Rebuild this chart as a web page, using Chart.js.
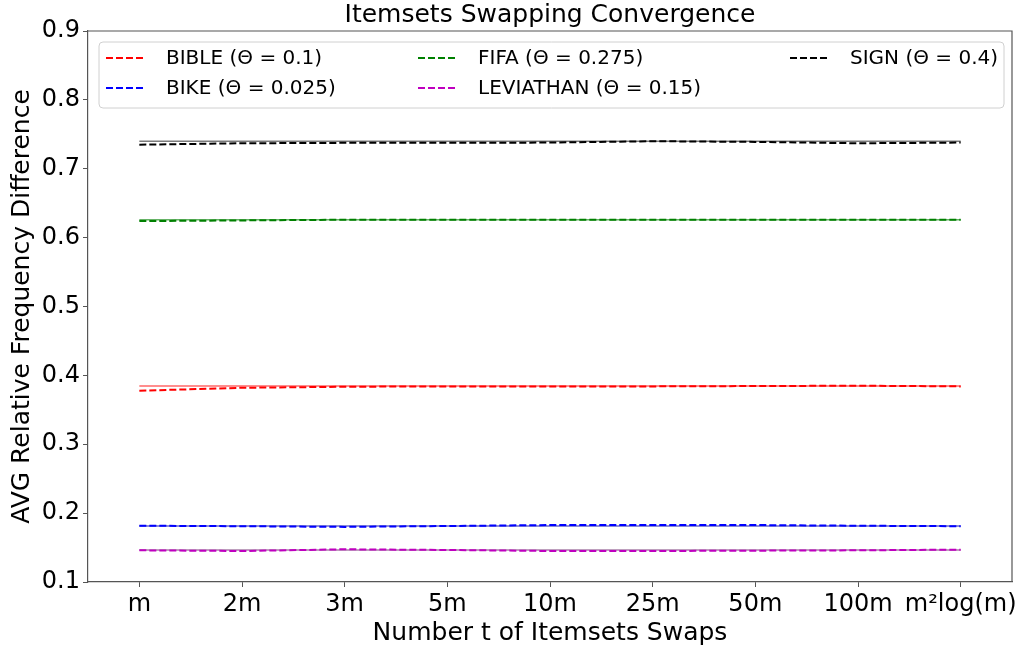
<!DOCTYPE html>
<html>
<head>
<meta charset="utf-8">
<script src="https://cdn.jsdelivr.net/npm/chart.js@4"></script>
<style>
  html, body { margin: 0; padding: 0; background: #fff; }
  #wrap { width: 1022px; height: 653px; }
</style>
</head>
<body>
<div id="wrap"><canvas id="conv-chart" width="1022" height="653"></canvas></div>
<script>
// swap counts on the x axis
var swaps = ["m", "2m", "3m", "5m", "10m", "25m", "50m", "100m", "m\u00B2log(m)"];

// AVG relative frequency difference per dataset (dashed = swapped runs)
var bible = [0.3777, 0.382, 0.3835, 0.384, 0.384, 0.384, 0.3845, 0.385, 0.384];
var bike = [0.1817, 0.181, 0.180, 0.1813, 0.1827, 0.1827, 0.1827, 0.1817, 0.181];
var fifa = [0.624, 0.625, 0.626, 0.626, 0.626, 0.626, 0.626, 0.626, 0.626];
var leviathan = [0.146, 0.145, 0.1475, 0.1465, 0.145, 0.145, 0.1455, 0.146, 0.147];
var sign = [0.735, 0.737, 0.7376, 0.7376, 0.738, 0.740, 0.739, 0.737, 0.738];

// reference level of each dataset (thin solid lines)
var bibleRef = 0.3845;
var bikeRef = 0.1813;
var fifaRef = 0.626;
var leviathanRef = 0.1465;
var signRef = 0.740;

var yTicks = [0.1, 0.2, 0.3, 0.4, 0.5, 0.6, 0.7, 0.8, 0.9];

var legendNames = ["BIBLE (\u0398 = 0.1)", "BIKE (\u0398 = 0.025)", "FIFA (\u0398 = 0.275)", "LEVIATHAN (\u0398 = 0.15)", "SIGN (\u0398 = 0.4)"];

var FONT = "'DejaVu Sans', sans-serif";

function flat(v) {
    return swaps.map(function() { return v; });
}

function dashed(label, data, color) {
    return { label: label, data: data, borderColor: color, backgroundColor: color,
             borderWidth: 2, borderDash: [7, 3], pointRadius: 0, tension: 0, fill: false };
}
function solid(data, color) {
    return { label: "", data: data, borderColor: color, borderWidth: 1.5,
             pointRadius: 0, tension: 0, fill: false };
}

// legend drawn inside the plot, column-major like the original
var boxLegend = {
    id: 'boxLegend',
    afterDatasetsDraw: function(chart) {
        var c = chart.ctx, a = chart.chartArea;
        var bx = a.left + 11, by = a.top + 11, bw = a.right - a.left - 19, bh = 66;
        c.save();
        c.beginPath();
        c.roundRect(bx, by, bw, bh, 4);
        c.fillStyle = 'rgba(255,255,255,0.85)';
        c.fill();
        c.strokeStyle = '#d0d0d0';
        c.lineWidth = 1;
        c.stroke();
        var cols = [a.left + 18, a.left + 330, a.left + 702];
        var rows = [a.top + 27, a.top + 57];
        var slots = [[0, 0], [0, 1], [1, 0], [1, 1], [2, 0]];
        c.font = "20px " + FONT;
        c.textBaseline = 'middle';
        c.textAlign = 'left';
        for (var i = 0; i < 5; i++) {
            var ds = chart.data.datasets[i];
            var x = cols[slots[i][0]], y = rows[slots[i][1]];
            c.beginPath();
            c.setLineDash([7, 3]);
            c.strokeStyle = ds.borderColor;
            c.lineWidth = 2;
            c.moveTo(x, y);
            c.lineTo(x + 40, y);
            c.stroke();
            c.setLineDash([]);
            c.fillStyle = '#000';
            c.fillText(ds.label, x + 60, y + 1);
        }
        c.restore();
    }
};

var ctx = document.getElementById("conv-chart");
var convChart = new Chart(ctx, {
    type: 'line',
    data: {
        labels: swaps,
        datasets: [
            dashed(legendNames[0], bible, '#ff0000'),
            dashed(legendNames[1], bike, '#0000ff'),
            dashed(legendNames[2], fifa, '#008000'),
            dashed(legendNames[3], leviathan, '#bf00bf'),
            dashed(legendNames[4], sign, '#000000'),
            solid(flat(bibleRef), 'rgba(255,0,0,0.6)'),
            solid(flat(bikeRef), 'rgba(0,0,160,0.6)'),
            solid(flat(fifaRef), 'rgba(0,128,0,0.6)'),
            solid(flat(leviathanRef), 'rgba(110,40,110,0.6)'),
            solid(flat(signRef), 'rgba(90,90,90,0.8)')
        ]
    },
    options: {
        responsive: false,
        animation: false,
        layout: { padding: { left: 0, right: 10, top: 0, bottom: 0 } },
        plugins: {
            legend: { display: false },
            tooltip: { enabled: false },
            title: {
                display: true,
                fullSize: false,
                text: 'Itemsets Swapping Convergence',
                color: '#000',
                font: { family: FONT, size: 25, weight: 'normal', lineHeight: 1.2 },
                padding: { top: 0, bottom: 1 }
            }
        },
        scales: {
            x: {
                type: 'category',
                offset: true,
                afterFit: function(s) { s.height = 71; },
                grid: { display: true, drawOnChartArea: false, drawTicks: true, tickLength: 5, color: '#555', offset: false },
                border: { display: true, color: '#555', width: 1.2 },
                ticks: { color: '#000', padding: 3, maxRotation: 0, autoSkip: false,
                         font: { family: FONT, size: 24 } },
                title: { display: true, text: 'Number t of Itemsets Swaps', color: '#000',
                         font: { family: FONT, size: 25, lineHeight: 1.2 },
                         padding: { top: 0, bottom: 5 } }
            },
            y: {
                min: 0.1,
                max: 0.9,
                afterFit: function(s) { s.width = 88; },
                afterBuildTicks: function(s) {
                    s.ticks = yTicks.map(function(v) { return { value: v }; });
                },
                grid: { display: true, drawOnChartArea: false, drawTicks: true, tickLength: 5, color: '#555' },
                border: { display: true, color: '#555', width: 1.2 },
                ticks: { color: '#000', padding: 3,
                         font: { family: FONT, size: 24 },
                         callback: function(v) { return Number(v).toFixed(1); } },
                title: { display: true, text: 'AVG Relative Frequency Difference', color: '#000',
                         font: { family: FONT, size: 25, lineHeight: 1.2 },
                         padding: { top: 7, bottom: 0 } }
            }
        }
    },
    plugins: [boxLegend, {
        id: 'frame',
        afterDraw: function(chart) {
            var c = chart.ctx, a = chart.chartArea;
            c.save();
            c.strokeStyle = '#555';
            c.lineWidth = 1.2;
            c.beginPath();
            c.moveTo(a.left, a.top);
            c.lineTo(a.right, a.top);
            c.lineTo(a.right, a.bottom);
            c.stroke();
            c.restore();
        }
    }]
});
</script>
</body>
</html>
